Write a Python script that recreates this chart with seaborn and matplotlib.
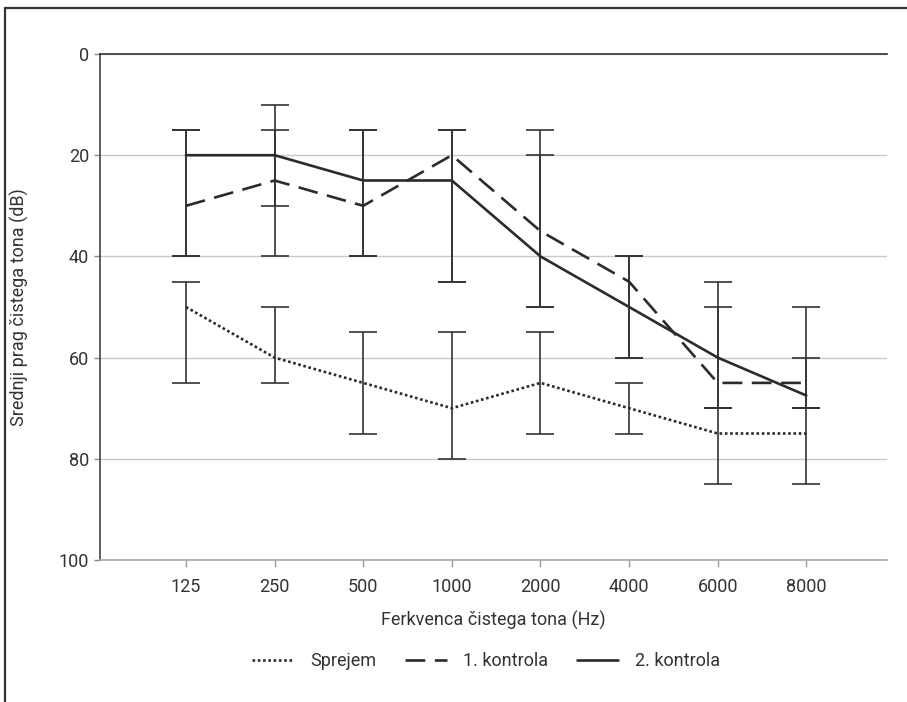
import numpy as np
import pandas as pd
import matplotlib
matplotlib.use("Agg")
import matplotlib.pyplot as plt
from matplotlib.lines import Line2D
import seaborn as sns

# Frequencies (Hz) of the pure-tone audiogram
frequencies = ["125", "250", "500", "1000", "2000", "4000", "6000", "8000"]

# Mean hearing thresholds (dB)
sprejem = [50, 60, 65, 70, 65, 70, 75, 75]
kontrola_1 = [30, 25, 30, 20, 35, 45, 65, 65]
kontrola_2 = [20, 20, 25, 25, 40, 50, 60, 67.5]

# Range (low, high) shown by each series' error bar
sprejem_lo = [45, 50, 55, 55, 55, 65, 70, 70]
sprejem_hi = [65, 65, 75, 80, 75, 75, 85, 85]
kontrola_1_lo = [15, 15, 15, 15, 20, 40, 45, 50]
kontrola_1_hi = [40, 40, 40, 45, 50, 60, 70, 70]
kontrola_2_lo = [15, 10, 15, 15, 15, 40, 50, 60]
kontrola_2_hi = [40, 30, 40, 45, 50, 60, 70, 70]

series_names = ["Sprejem", "1. kontrola", "2. kontrola"]
series_vals = [sprejem, kontrola_1, kontrola_2]
series_lo = [sprejem_lo, kontrola_1_lo, kontrola_2_lo]
series_hi = [sprejem_hi, kontrola_1_hi, kontrola_2_hi]

df = pd.DataFrame({
    "freq": frequencies * 3,
    "value": sprejem + kontrola_1 + kontrola_2,
    "serija": sum([[n] * len(frequencies) for n in series_names], []),
})

sns.set_theme(style="white")
plt.rcParams["font.family"] = ["Roboto", "DejaVu Sans"]

ink = "#2b2b2b"
txt = "#333333"
fs = 13
fig = plt.figure(figsize=(9.07, 7.02), dpi=100)
ax = fig.add_axes([100 / 907, 1 - 560 / 702, 787 / 907, 506 / 702])

dash_styles = {"Sprejem": (1, 1), "1. kontrola": (7.5, 3.6), "2. kontrola": ""}
sns.lineplot(data=df, x="freq", y="value", style="serija", dashes=dash_styles,
             color=ink, linewidth=1.9, markers=False, legend=False, ax=ax,
             sort=False, zorder=3)

# Error bars
xpos = np.arange(len(frequencies))
for vals, lo, hi in zip(series_vals, series_lo, series_hi):
    vals = np.array(vals, dtype=float)
    yerr = [vals - np.array(lo), np.array(hi) - vals]
    ax.errorbar(xpos, vals, yerr=yerr, fmt="none", ecolor="#333333",
                elinewidth=1.2, capsize=10, capthick=1.2, zorder=2)

ax.set_ylim(100, 0)
ax.set_xlim(-0.97, 7.91)
ax.set_yticks([0, 20, 40, 60, 80, 100])
ax.set_xticks(xpos)
ax.set_xticklabels(frequencies)
ax.yaxis.grid(True, color="#c9c9c9", linewidth=1.0)
ax.xaxis.grid(False)
ax.set_axisbelow(True)

ax.spines["right"].set_visible(False)
ax.spines["top"].set_color("#333333")
ax.spines["top"].set_linewidth(1.2)
ax.spines["left"].set_color("#444444")
ax.spines["left"].set_linewidth(1.2)
ax.spines["bottom"].set_color("#a8a8a8")
ax.spines["bottom"].set_linewidth(1.2)

ax.tick_params(axis="y", left=True, length=4, width=1, color="#888888",
               labelsize=fs, labelcolor=txt, pad=4)
ax.tick_params(axis="x", bottom=True, length=5, width=1, color="#999999",
               labelsize=fs, labelcolor=txt, pad=8)

ax.set_xlabel("Ferkvenca čistega tona (Hz)", fontsize=fs, color=txt)
ax.set_ylabel("Srednji prag čistega tona (dB)", fontsize=fs, color=txt)
ax.xaxis.set_label_coords(0.5, -0.1)
ax.yaxis.set_label_coords(-0.09, 0.5)

handles = [
    Line2D([], [], color=ink, linewidth=1.9, linestyle=(0, (1, 1))),
    Line2D([], [], color=ink, linewidth=1.9, linestyle=(0, (7.5, 3.6))),
    Line2D([], [], color=ink, linewidth=1.9, linestyle="-"),
]
fig.legend(handles, series_names, loc="center", ncol=3, frameon=False,
           bbox_to_anchor=(486 / 907, 1 - 661 / 702), fontsize=fs,
           handlelength=2.3, handletextpad=0.9, columnspacing=1.6,
           labelcolor=txt)

# Frame around the figure panel
fig.add_artist(Line2D([5 / 907, 5 / 907], [0, 1 - 8 / 702],
                      transform=fig.transFigure, color="#333333", linewidth=1.6))
fig.add_artist(Line2D([5 / 907, 1], [1 - 8 / 702, 1 - 8 / 702],
                      transform=fig.transFigure, color="#333333", linewidth=1.6))

fig.savefig("out.png", dpi=100)
